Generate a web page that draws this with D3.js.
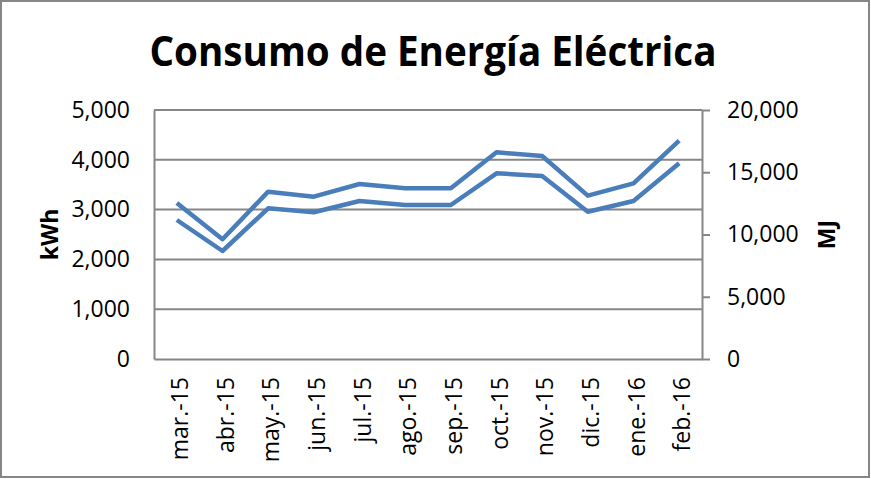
<!DOCTYPE html>
<html lang="es">
<head>
    <meta charset="UTF-8">
    <title>Consumo de Energía Eléctrica</title>
    <script type="text/javascript" src="https://d3js.org/d3.v7.min.js"></script>
    <style>
        body{ margin:0; background-color:white; }
        text{ font-family:"Open Sans", sans-serif; fill:black; }
    </style>
</head>
<body>
    <script type="text/javascript">
        // datos
        var meses=["mar.-15","abr.-15","may.-15","jun.-15","jul.-15","ago.-15",
                   "sep.-15","oct.-15","nov.-15","dic.-15","ene.-16","feb.-16"];
        var kwh=[3133,2404,3360,3259,3514,3428,3428,4151,4076,3280,3528,4384];
        var mj=[11165,8675,12104,11783,12691,12369,12369,14916,14699,11831,12691,15719];
        var ticksKwh=[0,1000,2000,3000,4000,5000];
        var ticksMj=[0,5000,10000,15000,20000];

        var width=871, height=479;
        var gris="#868686", azul="#4a7ebb";
        // area de trazado
        var pLeft=154, pRight=702, pTop=110, pBottom=359;

        var svg=d3.select("body").append("svg")
                .attr("width",width)
                .attr("height",height);

        // borde del grafico
        svg.append("rect")
            .attr("x",1).attr("y",1)
            .attr("width",868).attr("height",476)
            .attr("fill","white")
            .attr("stroke",gris)
            .attr("stroke-width",2);

        var x=d3.scaleBand().domain(meses).range([pLeft,pRight]);
        var yL=d3.scaleLinear().domain([0,5000]).range([pBottom,pTop]);
        var yR=d3.scaleLinear().domain([0,20000]).range([pBottom,pTop]);
        var fmt=d3.format(",");

        // lineas de division
        svg.append("g").selectAll("line")
            .data(ticksKwh.slice(1))
            .enter().append("line")
            .attr("x1",pLeft).attr("x2",pRight)
            .attr("y1",d=>yL(d)).attr("y2",d=>yL(d))
            .attr("stroke",gris).attr("stroke-width",2);

        // eje izquierdo
        var ejeL=svg.append("g")
            .attr("transform","translate("+pLeft+",0)")
            .call(d3.axisLeft(yL).tickValues(ticksKwh).tickSize(0).tickPadding(24).tickFormat(fmt));
        ejeL.select(".domain").attr("stroke",gris).attr("stroke-width",2);
        ejeL.selectAll("text").style("font-size","23px").attr("font-family",null);

        // eje derecho
        var ejeR=svg.append("g")
            .attr("transform","translate("+pRight+",0)")
            .call(d3.axisRight(yR).tickValues(ticksMj).tickSize(8).tickSizeOuter(0).tickPadding(17).tickFormat(fmt));
        ejeR.select(".domain").attr("stroke",gris).attr("stroke-width",2);
        ejeR.selectAll("line").attr("stroke",gris).attr("stroke-width",2);
        ejeR.selectAll("text").style("font-size","23px").attr("font-family",null);

        // eje x
        var ejeX=svg.append("g")
            .attr("transform","translate(0,"+pBottom+")")
            .call(d3.axisBottom(x).tickSize(0).tickSizeOuter(0));
        ejeX.select(".domain").attr("stroke",gris).attr("stroke-width",2);
        ejeX.selectAll("text")
            .style("font-size","23px").attr("font-family",null)
            .attr("text-anchor","end")
            .attr("dy",null)
            .attr("transform","translate(2,18) rotate(-90)")
            .attr("x",0).attr("y",0)
            .attr("dominant-baseline","central");

        // series
        var lineaL=d3.line().x((d,i)=>x(meses[i])+x.bandwidth()/2).y(d=>yL(d));
        var lineaR=d3.line().x((d,i)=>x(meses[i])+x.bandwidth()/2).y(d=>yR(d));
        svg.append("path").datum(mj)
            .attr("d",lineaR)
            .attr("fill","none").attr("stroke",azul)
            .attr("stroke-width",4.5).attr("stroke-linejoin","round");
        svg.append("path").datum(kwh)
            .attr("d",lineaL)
            .attr("fill","none").attr("stroke",azul)
            .attr("stroke-width",4.5).attr("stroke-linejoin","round");

        // titulos
        svg.append("text")
            .attr("x",433).attr("y",66)
            .attr("text-anchor","middle")
            .attr("textLength",567).attr("lengthAdjust","spacingAndGlyphs")
            .style("font-size","41px").style("font-weight","bold")
            .text("Consumo de Energía Eléctrica");

        svg.append("text")
            .attr("transform","translate(49,"+(pTop+pBottom)/2+") rotate(-90)")
            .attr("text-anchor","middle").attr("dominant-baseline","central")
            .style("font-size","23px").style("font-weight","bold")
            .text("kWh");

        svg.append("text")
            .attr("transform","translate(826,"+(pTop+pBottom)/2+") rotate(-90)")
            .attr("text-anchor","middle").attr("dominant-baseline","central")
            .style("font-size","23px").style("font-weight","bold")
            .text("MJ");
    </script>
</body>
</html>
